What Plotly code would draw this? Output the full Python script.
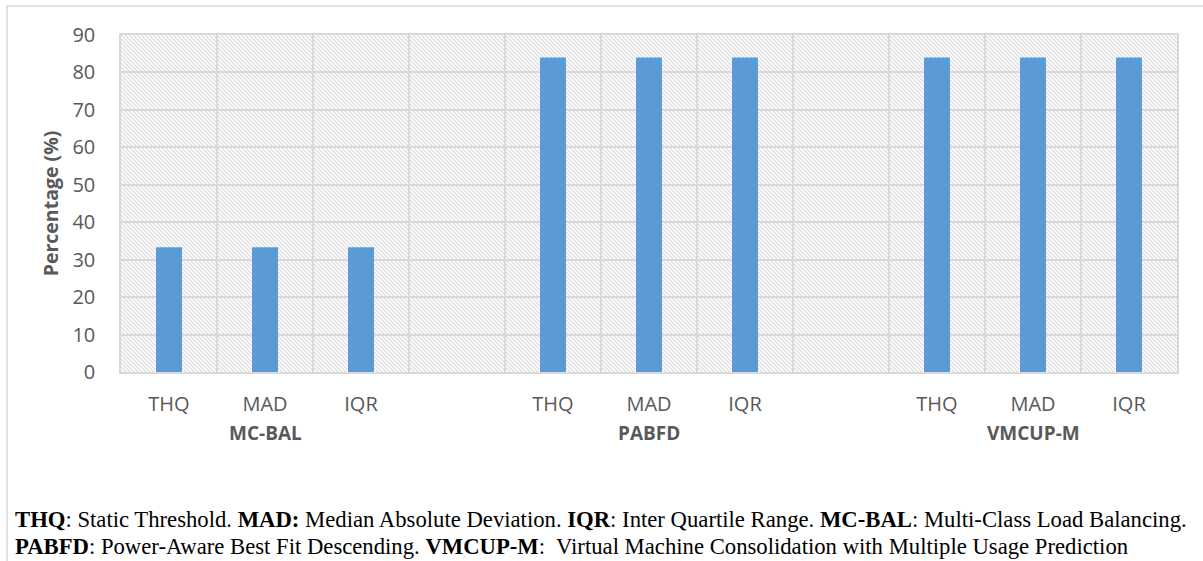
import base64
import plotly.graph_objects as go

# ---- data ----
groups = ["MC-BAL", "PABFD", "VMCUP-M"]
methods = ["THQ", "MAD", "IQR"]
mc_bal = [33.33, 33.33, 33.33]
pabfd = [84, 84, 84]
vmcup_m = [84, 84, 84]
y_ticks = [0, 10, 20, 30, 40, 50, 60, 70, 80, 90]
y_title = "Percentage (%)"
footer_1 = ("<b>THQ</b>: Static Threshold. <b>MAD:</b> Median Absolute Deviation. "
            "<b>IQR</b>: Inter Quartile Range. <b>MC-BAL</b>: Multi-Class Load Balancing.")
footer_2 = ("<b>PABFD</b>: Power-Aware Best Fit Descending. <b>VMCUP-M</b>:  "
            "Virtual Machine Consolidation with Multiple Usage Prediction")

series = [mc_bal, pabfd, vmcup_m]

# build category slots (with blank spacer slot between groups)
cats, vals, ticktext = [], [], []
for gi, (g, v) in enumerate(zip(groups, series)):
    for m, val in zip(methods, v):
        cats.append(f"{g}|{m}")
        vals.append(val)
        ticktext.append(m)
    if gi < len(groups) - 1:
        cats.append(f"gap{gi}")
        vals.append(None)
        ticktext.append("")

# ---- layout geometry (pixels) ----
W, H = 1203, 561
L, R, T, B = 121, 26, 35, 189
PW, PH = W - L - R, H - T - B


def px_x(px):
    return (px - L) / PW


def px_y(py):
    return (H - B - py) / PH


# hatch background as svg
svg = (f'<svg xmlns="http://www.w3.org/2000/svg" width="{PW}" height="{PH}">'
       '<defs><pattern id="p" width="4" height="4" patternUnits="userSpaceOnUse">'
       '<rect width="4" height="4" fill="#ffffff"/>'
       '<path d="M-1,-1 L5,5 M-1,3 L1,5 M3,-1 L5,1" stroke="#d8d8d8" stroke-width="1.1"/>'
       '</pattern></defs>'
       f'<rect width="{PW}" height="{PH}" fill="url(#p)"/></svg>')
svg_uri = "data:image/svg+xml;base64," + base64.b64encode(svg.encode()).decode()

grey = "#595959"
gridc = "#D9D9D9"
font = "Open Sans"

fig = go.Figure()
fig.add_trace(go.Bar(x=cats, y=vals, marker=dict(color="#5B9BD5", line=dict(width=0)),
                     hoverinfo="x+y"))

fig.update_layout(
    width=W, height=H,
    margin=dict(l=L, r=R, t=T, b=B, autoexpand=False),
    paper_bgcolor="white",
    plot_bgcolor="rgba(0,0,0,0)",
    bargap=0.73,
    showlegend=False,
    font=dict(family=font, color=grey, size=20),
    images=[dict(source=svg_uri, xref="x domain", yref="y domain", x=0, y=1,
                 sizex=1, sizey=1, xanchor="left", yanchor="top",
                 sizing="stretch", layer="below")],
)

fig.update_xaxes(
    type="category", categoryorder="array", categoryarray=cats,
    tickmode="array", tickvals=cats, ticktext=ticktext,
    tickson="boundaries", ticks="", showgrid=True, gridcolor=gridc, gridwidth=1.5,
    showline=True, linecolor=gridc, linewidth=1.5, mirror=True,
    tickfont=dict(family=font, size=20, color=grey), ticklabelstandoff=13,
    automargin=False, fixedrange=True,
)
fig.update_yaxes(
    range=[0, 90], tickmode="array", tickvals=y_ticks,
    showgrid=True, gridcolor=gridc, gridwidth=1.5, zeroline=False,
    showline=True, linecolor=gridc, linewidth=1.5, mirror=True,
    ticks="", tickfont=dict(family=font, size=20, color=grey), ticklabelstandoff=20,
    title=dict(text=f"<b>{y_title}</b>", font=dict(family=font, size=19.5, color=grey),
               standoff=9),
    automargin=False, fixedrange=True,
)

annotations = []
for g in groups:
    annotations.append(dict(x=f"{g}|MAD", xref="x", y=px_y(433), yref="paper",
                            text=f"<b>{g}</b>", showarrow=False, yanchor="middle",
                            font=dict(family=font, size=19, color=grey)))
annotations.append(dict(x=px_x(13), xref="paper", y=px_y(519), yref="paper",
                        text=footer_1, showarrow=False, xanchor="left", yanchor="middle",
                        align="left",
                        font=dict(family="Liberation Serif", size=22.7, color="black")))
annotations.append(dict(x=px_x(13), xref="paper", y=px_y(546), yref="paper",
                        text=footer_2, showarrow=False, xanchor="left", yanchor="middle",
                        align="left",
                        font=dict(family="Liberation Serif", size=22.7, color="black")))
fig.update_layout(annotations=annotations)

# outer chart frame
fig.add_shape(type="rect", xref="paper", yref="paper",
              x0=px_x(7), x1=px_x(1215), y0=px_y(575), y1=px_y(6),
              line=dict(color=gridc, width=1.5), fillcolor="rgba(0,0,0,0)", layer="below")

fig.write_html("out.html")
